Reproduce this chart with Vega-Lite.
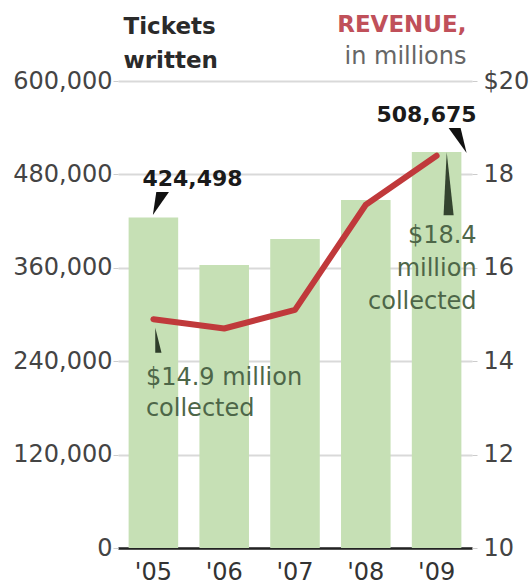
{
  "$schema": "https://vega.github.io/schema/vega-lite/v6.json",
  "width": 354,
  "height": 467,
  "autosize": {"type": "none"},
  "padding": {"left": 118, "top": 81, "right": 60, "bottom": 40},
  "background": "white",
  "config": {
    "font": "DejaVu Sans",
    "view": {"stroke": null},
    "axis": {"labelFont": "DejaVu Sans", "titleFont": "DejaVu Sans"}
  },
  "data": {
    "values": [
      {"year": "'05", "tickets": 424498, "revenue": 14.9, "note": "$14.9 million\ncollected"},
      {"year": "'06", "tickets": 363500, "revenue": 14.7, "note": ""},
      {"year": "'07", "tickets": 397000, "revenue": 15.1, "note": ""},
      {"year": "'08", "tickets": 447000, "revenue": 17.35, "note": ""},
      {"year": "'09", "tickets": 508675, "revenue": 18.4, "note": "$18.4\nmillion\ncollected"}
    ]
  },
  "encoding": {
    "x": {
      "field": "year",
      "type": "ordinal",
      "sort": null,
      "scale": {"paddingInner": 0.3, "paddingOuter": 0.15},
      "axis": {
        "title": null,
        "labelAngle": 0,
        "ticks": false,
        "grid": false,
        "domainColor": "#222222",
        "domainWidth": 2.5,
        "labelFontSize": 24,
        "labelColor": "#333333",
        "labelPadding": 12
      }
    }
  },
  "layer": [
    {
      "encoding": {
        "y": {
          "field": "tickets",
          "type": "quantitative",
          "scale": {"domain": [0, 600000], "nice": false},
          "axis": {
            "orient": "left",
            "values": [0, 120000, 240000, 360000, 480000, 600000],
            "format": ",.0f",
            "domain": false,
            "grid": true,
            "gridColor": "#d9d9d9",
            "gridWidth": 2,
            "ticks": true,
            "tickSize": 5,
            "tickColor": "#cccccc",
            "labelPadding": 1,
            "labelFontSize": 24,
            "labelColor": "#444444",
            "title": ["Tickets", "written"],
            "titleAngle": 0,
            "titleAlign": "left",
            "titleBaseline": "alphabetic",
            "titleX": 5,
            "titleY": -48,
            "titleFontSize": 23,
            "titleFontWeight": "bold",
            "titleColor": "#2a2a2a",
            "titleLineHeight": 34
          }
        }
      },
      "layer": [
        {"mark": {"type": "bar", "color": "#c6e0b5"}},
        {
          "transform": [{"filter": {"field": "year", "equal": "'05"}}],
          "mark": {"type": "text", "align": "left", "baseline": "alphabetic", "dx": -11, "dy": -32, "fontSize": 22, "fontWeight": "bold", "color": "#1a1a1a"},
          "encoding": {"text": {"field": "tickets", "type": "quantitative", "format": ",.0f"}}
        },
        {
          "transform": [{"filter": {"field": "year", "equal": "'09"}}],
          "mark": {"type": "text", "align": "right", "baseline": "alphabetic", "dx": 40, "dy": -30, "fontSize": 22, "fontWeight": "bold", "color": "#1a1a1a"},
          "encoding": {"text": {"field": "tickets", "type": "quantitative", "format": ",.0f"}}
        },
        {
          "transform": [{"filter": {"field": "year", "equal": "'05"}}],
          "mark": {"type": "point", "shape": "M-0.4,-1L0.7,-1L-0.7,1Z", "size": 529, "filled": true, "opacity": 1, "color": "#111111", "xOffset": 7.5, "yOffset": -14}
        },
        {
          "transform": [{"filter": {"field": "year", "equal": "'09"}}],
          "mark": {"type": "point", "shape": "M-0.72,-1L0.24,-1L0.72,1Z", "size": 625, "filled": true, "opacity": 1, "color": "#111111", "xOffset": 21, "yOffset": -11.5}
        }
      ]
    },
    {
      "encoding": {
        "y": {
          "field": "revenue",
          "type": "quantitative",
          "scale": {"domain": [10, 20], "nice": false, "zero": false},
          "axis": {
            "orient": "right",
            "values": [10, 12, 14, 16, 18, 20],
            "labelExpr": "datum.value == 20 ? '$20' : datum.label",
            "domain": false,
            "grid": false,
            "ticks": true,
            "tickSize": 5,
            "tickColor": "#cccccc",
            "labelPadding": 6,
            "labelFontSize": 24,
            "labelColor": "#444444",
            "title": "REVENUE,",
            "titleAngle": 0,
            "titleAlign": "right",
            "titleBaseline": "alphabetic",
            "titleX": -6,
            "titleY": -50,
            "titleFontSize": 23,
            "titleFontWeight": "bold",
            "titleColor": "#c0505a"
          }
        }
      },
      "layer": [
        {"mark": {"type": "line", "color": "#c0393b", "strokeWidth": 6, "strokeCap": "round", "strokeJoin": "round"}}
      ]
    },
    {
      "encoding": {
        "y": {
          "field": "revenue",
          "type": "quantitative",
          "scale": {"domain": [10, 20], "nice": false, "zero": false},
          "axis": {
            "orient": "right",
            "labels": false,
            "ticks": false,
            "domain": false,
            "grid": false,
            "title": "in millions",
            "titleAngle": 0,
            "titleAlign": "right",
            "titleBaseline": "alphabetic",
            "titleX": -6,
            "titleY": -18,
            "titleFontSize": 24,
            "titleFontWeight": "normal",
            "titleColor": "#666666"
          }
        }
      },
      "layer": [
        {
          "transform": [{"filter": {"field": "year", "equal": "'05"}}],
          "mark": {"type": "text", "align": "left", "baseline": "alphabetic", "lineBreak": "\n", "lineHeight": 31, "dx": -7.5, "dy": 66, "fontSize": 24, "color": "#4d6648"},
          "encoding": {"text": {"field": "note", "type": "nominal"}}
        },
        {
          "transform": [{"filter": {"field": "year", "equal": "'09"}}],
          "mark": {"type": "text", "align": "right", "baseline": "alphabetic", "lineBreak": "\n", "lineHeight": 33, "dx": 40, "dy": 87, "fontSize": 24, "color": "#4d6648"},
          "encoding": {"text": {"field": "note", "type": "nominal"}}
        },
        {
          "transform": [{"filter": {"field": "year", "equal": "'05"}}],
          "mark": {"type": "point", "shape": "M-0.25,-1L0.25,1L-0.25,1Z", "size": 625, "filled": true, "opacity": 1, "color": "#2e3d2a", "xOffset": 5, "yOffset": 21}
        },
        {
          "transform": [{"filter": {"field": "year", "equal": "'09"}}],
          "mark": {"type": "point", "shape": "M-0.06,-1L0.16,1L-0.16,1Z", "size": 3969, "filled": true, "opacity": 1, "color": "#34432f", "xOffset": 12, "yOffset": 28}
        }
      ]
    }
  ],
  "resolve": {"scale": {"y": "independent"}, "axis": {"y": "independent"}}
}
